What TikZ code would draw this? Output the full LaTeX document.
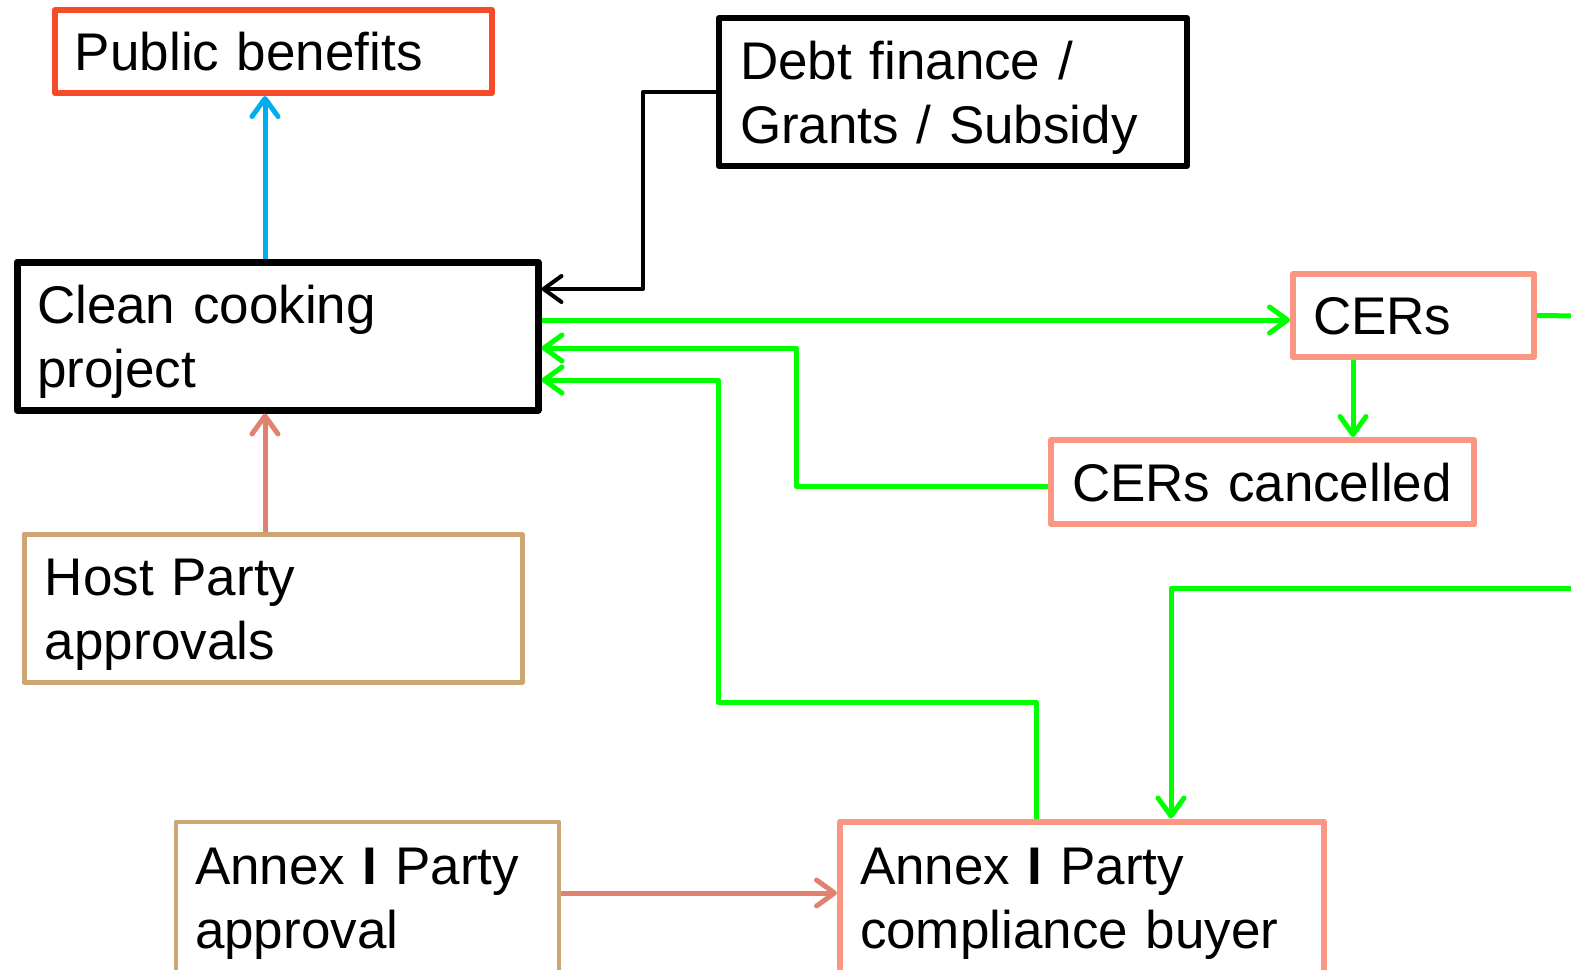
\documentclass[tikz,border=0pt]{standalone}
\usepackage{fontspec}
\setmainfont{Liberation Sans}
\usetikzlibrary{arrows.meta}

\definecolor{benefitred}{RGB}{245,75,40}
\definecolor{cersalmon}{RGB}{250,150,130}
\definecolor{approvaltan}{RGB}{205,165,115}
\definecolor{approvalarrow}{RGB}{225,130,112}
\definecolor{flowgreen}{RGB}{0,255,0}
\definecolor{benefitblue}{RGB}{0,174,239}

\begin{document}
\begin{tikzpicture}[
    x=0.5pt, y=-0.5pt,
    >={Straight Barb[length=9pt,width=13pt,round]},
    box/.style={draw, rectangle, line join=round, inner ysep=0pt, inner xsep=10pt, align=left, font={\fontsize{26.5}{32}\selectfont}, text height=19pt},
    oneline/.style={box, text depth=0pt},
    twoline/.style={box, text depth=32pt},
    link/.style={line width=2.5pt, line join=round}
]
    \useasboundingbox (0,0) rectangle (1571,970);
    \clip (0,0) rectangle (1571,970);

    \node[oneline, draw=benefitred, line width=3pt, minimum width=218.5pt, minimum height=41.5pt, text width=198.5pt] (pub) at (273.5,51.5) {Public benefits};
    \node[twoline, line width=3pt, minimum width=234pt, minimum height=74pt, inner xsep=10.5pt, text width=213pt] (debt) at (953,92) {Debt finance /\\Grants / Subsidy};
    \node[twoline, line width=3.5pt, minimum width=260.5pt, minimum height=74pt, text width=240.5pt] (ccp) at (277.5,336) {Clean cooking\\project};
    \node[oneline, draw=cersalmon, line width=3pt, minimum width=120.5pt, minimum height=41.5pt, text width=100.5pt] (cers) at (1413.5,315.5) {CERs};
    \node[oneline, draw=cersalmon, line width=3pt, minimum width=211.5pt, minimum height=42pt, inner xsep=10.5pt, text width=190.5pt] (cerc) at (1262.5,482) {CERs cancelled};
    \node[twoline, draw=approvaltan, line width=2.5pt, minimum width=249pt, minimum height=74pt, inner xsep=10.5pt, text width=228pt] (host) at (273,608) {Host Party\\approvals};
    \node[twoline, draw=approvaltan, line width=2pt, minimum width=191.5pt, minimum height=76pt, inner xsep=9.5pt, text width=172.5pt] (aiap) at (367.5,897.5) {Annex \textbf{I} Party\\approval};
    \node[twoline, draw=cersalmon, line width=3pt, minimum width=242pt, minimum height=76pt, text width=222pt] (aicb) at (1082,897.5) {Annex \textbf{I} Party\\compliance buyer};

    \coordinate (offcers) at (1580,316);
    \coordinate (offbuyer) at (1580,588);

    \draw[link, benefitblue, ->] ([xshift=-6.25pt]ccp.north) -- ([xshift=-6.25pt]ccp.north |- pub.south);
    \draw[link, approvalarrow, ->] ([xshift=-4pt]host.north) -- ([xshift=-4pt]host.north |- ccp.south);
    \draw[link, line width=2pt, ->] (debt.west) -- ++(-73,0) |- ([yshift=23.5pt]ccp.east);

    \draw[link, flowgreen, ->] ([yshift=8pt]ccp.east) -- ([yshift=8pt]ccp.east -| cers.west);
    \draw[link, flowgreen, ->] ([xshift=-30.25pt]cers.south) -- ([xshift=-30.25pt]cers.south |- cerc.north);
    \draw[link, flowgreen] (cers.east) -- (offcers);
    \draw[link, flowgreen, ->] ([yshift=-2pt]cerc.west) -- ++(-252,0) |- ([yshift=-6pt]ccp.east);
    \draw[link, flowgreen, ->] ([xshift=-23pt]aicb.north) -- ++(0,-116) -- ++(-318,0) |- ([yshift=-22pt]ccp.east);
    \draw[link, flowgreen, ->] (offbuyer) -| ([xshift=44.5pt]aicb.north);
    \draw[link, approvalarrow, ->] ([yshift=2.25pt]aiap.east) -- ([yshift=2.25pt]aiap.east -| aicb.west);
\end{tikzpicture}
\end{document}
